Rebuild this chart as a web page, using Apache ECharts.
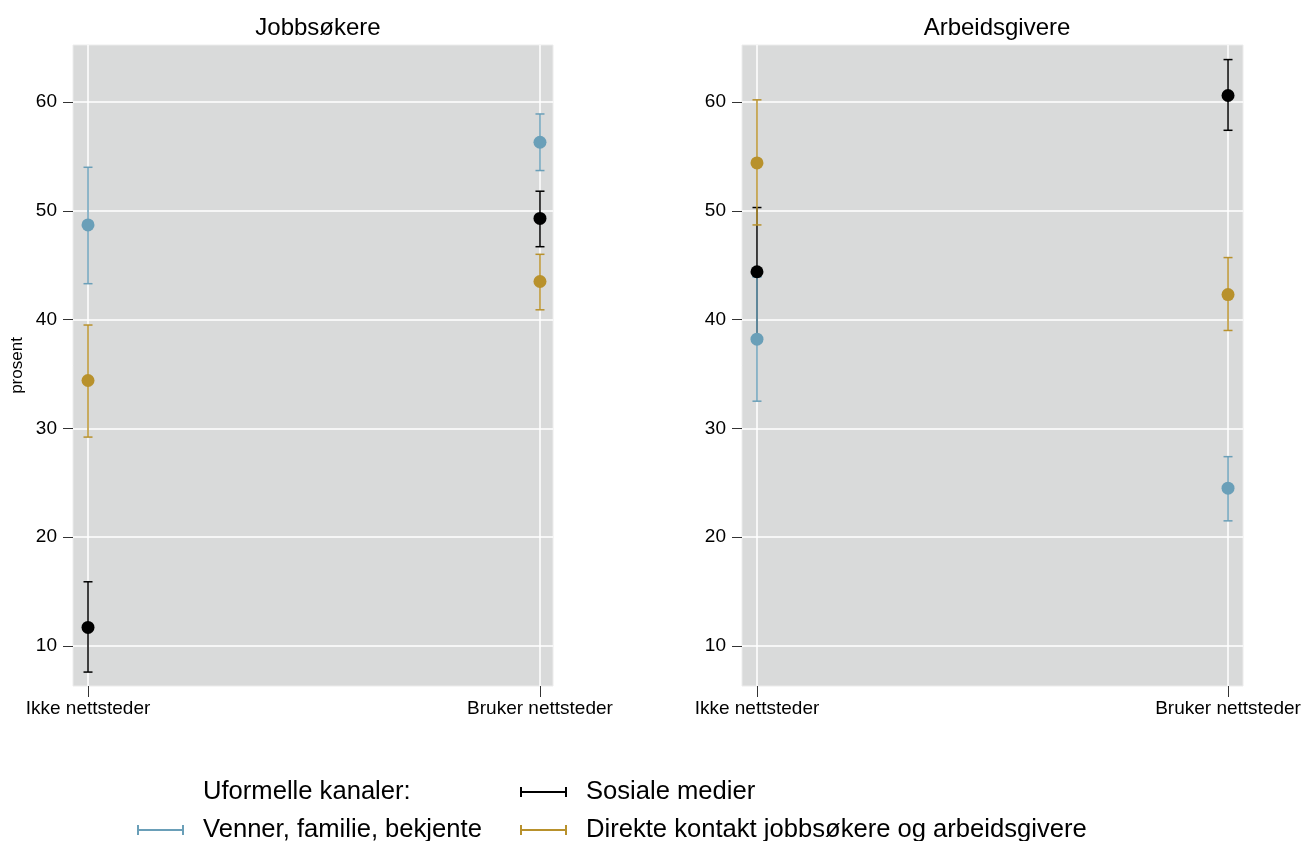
<!DOCTYPE html>
<html>
<head>
<meta charset="utf-8">
<script src="https://cdn.jsdelivr.net/npm/echarts@6/dist/echarts.min.js"></script>
<style>
html, body { margin: 0; padding: 0; background: #fff; }
#chart { width: 1301px; height: 841px; }
</style>
</head>
<body>
<div id="chart"></div>
<script>
var categories = ['Ikke nettsteder', 'Bruker nettsteder'];
var panels = ['Jobbsøkere', 'Arbeidsgivere'];
var yTicks = [10, 20, 30, 40, 50, 60];
var seriesNames = ['Sosiale medier', 'Venner, familie, bekjente', 'Direkte kontakt jobbsøkere og arbeidsgivere'];

// Jobbsøkere (estimate, lower CI, upper CI per category)
var jobbSosiale = [11.7, 49.3];
var jobbSosialeLo = [7.6, 46.7];
var jobbSosialeHi = [15.9, 51.8];
var jobbVenner = [48.7, 56.3];
var jobbVennerLo = [43.3, 53.7];
var jobbVennerHi = [54.0, 58.9];
var jobbDirekte = [34.4, 43.5];
var jobbDirekteLo = [29.2, 40.9];
var jobbDirekteHi = [39.5, 46.0];

// Arbeidsgivere
var arbSosiale = [44.4, 60.6];
var arbSosialeLo = [38.5, 57.4];
var arbSosialeHi = [50.3, 63.9];
var arbVenner = [38.2, 24.5];
var arbVennerLo = [32.5, 21.5];
var arbVennerHi = [43.9, 27.4];
var arbDirekte = [54.4, 42.3];
var arbDirekteLo = [48.7, 39.0];
var arbDirekteHi = [60.2, 45.7];

var colors = ['#000000', '#6a9fb8', '#b8912c'];
var font = 'Liberation Sans, Arial, Helvetica, sans-serif';

function errorBar(color) {
    return function (params, api) {
        var x = api.value(0);
        var top = api.coord([x, api.value(2)]);
        var bot = api.coord([x, api.value(1)]);
        var style = { stroke: color, lineWidth: 1.5 };
        return {
            type: 'group',
            children: [
                { type: 'line', shape: { x1: top[0], y1: top[1], x2: bot[0], y2: bot[1] }, style: style },
                { type: 'line', shape: { x1: top[0] - 4.5, y1: top[1], x2: top[0] + 4.5, y2: top[1] }, style: style },
                { type: 'line', shape: { x1: bot[0] - 4.5, y1: bot[1], x2: bot[0] + 4.5, y2: bot[1] }, style: style }
            ]
        };
    };
}

function ciData(lo, hi) {
    return lo.map(function (v, i) { return [i, v, hi[i]]; });
}
function estData(est) {
    return est.map(function (v, i) { return [i, v]; });
}

var panelData = [
    [[jobbSosiale, jobbSosialeLo, jobbSosialeHi], [jobbVenner, jobbVennerLo, jobbVennerHi], [jobbDirekte, jobbDirekteLo, jobbDirekteHi]],
    [[arbSosiale, arbSosialeLo, arbSosialeHi], [arbVenner, arbVennerLo, arbVennerHi], [arbDirekte, arbDirekteLo, arbDirekteHi]]
];

var series = [];
panelData.forEach(function (groups, p) {
    groups.forEach(function (g, k) {
        series.push({
            type: 'custom',
            name: seriesNames[k],
            xAxisIndex: p,
            yAxisIndex: p,
            renderItem: errorBar(colors[k]),
            encode: { x: 0, y: [1, 2] },
            data: ciData(g[1], g[2]),
            itemStyle: { color: colors[k] },
            z: 2,
            silent: true
        });
    });
    groups.forEach(function (g, k) {
        series.push({
            type: 'scatter',
            name: seriesNames[k],
            xAxisIndex: p,
            yAxisIndex: p,
            symbol: 'circle',
            symbolSize: 13,
            data: estData(g[0]),
            itemStyle: { color: colors[k], opacity: 1 },
            z: 3
        });
    });
});

var capIcon = 'path://M0,0h2v10h-2z M45,0h2v10h-2z M0,4h47v2h-47z';

function legendBox(name, left, top) {
    return {
        data: [{ name: name, icon: capIcon }],
        left: left,
        top: top,
        itemWidth: 47,
        itemHeight: 10,
        selectedMode: false,
        textStyle: { fontFamily: font, fontSize: 25.6, color: '#000', padding: [0, 0, 0, 14] }
    };
}

function xAxis(grid, min, max) {
    return {
        type: 'value',
        gridIndex: grid,
        min: min,
        max: max,
        axisLine: { show: false, onZero: false },
        axisTick: { show: true, customValues: [0, 1], length: 11, lineStyle: { color: '#333', width: 1 } },
        axisLabel: {
            customValues: [0, 1],
            formatter: function (v) { return categories[Math.round(v)]; },
            fontFamily: font, fontSize: 19, color: '#000', margin: 13
        },
        splitLine: { show: true, lineStyle: { color: '#ffffff', width: 1.5 } }
    };
}

function yAxis(grid, withName) {
    return {
        type: 'value',
        gridIndex: grid,
        min: 6.32,
        max: 65.24,
        name: withName ? 'prosent' : '',
        nameLocation: 'middle',
        nameGap: 47,
        nameTextStyle: { fontFamily: font, fontSize: 17, color: '#000' },
        axisLine: { show: false, onZero: false },
        axisTick: { show: true, customValues: yTicks, length: 10, lineStyle: { color: '#333', width: 1 } },
        axisLabel: { customValues: yTicks, fontFamily: font, fontSize: 19, color: '#000', margin: 16 },
        splitLine: { show: true, lineStyle: { color: '#ffffff', width: 1.5 } }
    };
}

var chart = echarts.init(document.getElementById('chart'));
var options = {
    animation: false,
    backgroundColor: '#ffffff',
    title: [
        { text: panels[0], left: 313, top: 11, textAlign: 'center', textStyle: { fontFamily: font, fontSize: 24, fontWeight: 'normal', color: '#000' } },
        { text: panels[1], left: 992, top: 11, textAlign: 'center', textStyle: { fontFamily: font, fontSize: 24, fontWeight: 'normal', color: '#000' } },
        { text: 'Uformelle kanaler:', left: 198, top: 774, textStyle: { fontFamily: font, fontSize: 25.6, fontWeight: 'normal', color: '#000' } }
    ],
    grid: [
        { left: 73, right: 748, top: 45, bottom: 155, outerBoundsMode: 'none', show: true, backgroundColor: '#d9dada', borderColor: '#ececec', borderWidth: 1 },
        { left: 742, right: 58, top: 45, bottom: 155, outerBoundsMode: 'none', show: true, backgroundColor: '#d9dada', borderColor: '#ececec', borderWidth: 1 }
    ],
    legend: [
        legendBox(seriesNames[0], 515, 774),
        legendBox(seriesNames[1], 132, 812),
        legendBox(seriesNames[2], 515, 812)
    ],
    xAxis: [xAxis(0, -0.0332, 1.0288), xAxis(1, -0.0318, 1.0318)],
    yAxis: [yAxis(0, true), yAxis(1, false)],
    series: series
};
chart.setOption(options);
</script>
</body>
</html>
